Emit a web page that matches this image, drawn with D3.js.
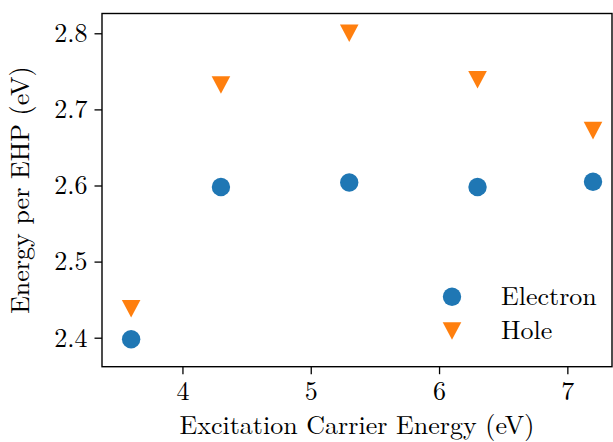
<!DOCTYPE html>
<html>
<head>
<meta charset="utf-8">
<script src="https://cdn.jsdelivr.net/npm/d3@7"></script>
<style>
  html, body { margin: 0; padding: 0; background: #fff; }
  svg { display: block; }
</style>
</head>
<body>
<script>
// Excitation carrier energies (eV)
const excitation = [3.6, 4.3, 5.3, 6.3, 7.2];
// Energy per electron-hole pair (eV)
const electron = [2.398, 2.598, 2.604, 2.598, 2.605];
const hole = [2.438, 2.732, 2.800, 2.739, 2.672];
const xTicks = [4, 5, 6, 7];
const yTicks = [2.4, 2.5, 2.6, 2.7, 2.8];
const seriesNames = ["Electron", "Hole"];
const seriesColors = ["#1f77b4", "#ff7f0e"];

const W = 613, H = 442;
const plot = { left: 102, right: 612, top: 13.5, bottom: 366.7 };
const FONT = '"Latin Modern Roman", "Liberation Serif", serif';
const fs = 26;

const svg = d3.select("body").append("svg").attr("width", W).attr("height", H)
  .style("font-family", FONT);

const x = d3.scaleLinear().domain([3.373, 7.348]).range([plot.left, plot.right]);
const y = d3.scaleLinear().domain([2.3619, 2.826]).range([plot.bottom, plot.top]);

// axes
const xAxis = svg.append("g")
  .attr("transform", `translate(0,${plot.bottom})`)
  .call(d3.axisBottom(x).tickValues(xTicks).tickFormat(d3.format("d")).tickSize(7.5).tickPadding(7));
const yAxis = svg.append("g")
  .attr("transform", `translate(${plot.left},0)`)
  .call(d3.axisLeft(y).tickValues(yTicks).tickFormat(d3.format(".1f")).tickSize(7.5).tickPadding(7));

[xAxis, yAxis].forEach(g => {
  g.attr("font-family", null).attr("font-size", null);
  g.select(".domain").remove();
  g.selectAll(".tick line").attr("stroke", "#000").attr("stroke-width", 1.3);
  g.selectAll(".tick text")
    .style("font-family", FONT).style("font-size", fs + "px").attr("fill", "#000");
});

// frame
svg.append("rect")
  .attr("x", plot.left).attr("y", plot.top)
  .attr("width", plot.right - plot.left).attr("height", plot.bottom - plot.top)
  .attr("fill", "none").attr("stroke", "#000").attr("stroke-width", 1.4);

// axis labels
svg.append("text")
  .attr("x", (plot.left + plot.right) / 2).attr("y", 434)
  .attr("text-anchor", "middle")
  .style("font-family", FONT).style("font-size", fs + "px")
  .text("Excitation Carrier Energy (eV)");
svg.append("text")
  .attr("transform", `translate(29,${(plot.top + plot.bottom) / 2}) rotate(-90)`)
  .attr("text-anchor", "middle")
  .style("font-family", FONT).style("font-size", fs + "px")
  .text("Energy per EHP (eV)");

// marker shapes
const circleSym = d3.symbol().type(d3.symbolCircle).size(Math.PI * 9.2 * 9.2);
function triDown(cx, cy, s) {
  // downward triangle centred on its bounding box
  return `M${cx - s},${cy - s * 0.95}L${cx + s},${cy - s * 0.95}L${cx},${cy + s * 0.95}Z`;
}

svg.append("g").selectAll("path")
  .data(excitation.map((v, i) => [v, electron[i]]))
  .join("path")
  .attr("transform", d => `translate(${x(d[0])},${y(d[1])})`)
  .attr("d", circleSym)
  .attr("fill", seriesColors[0]);

svg.append("g").selectAll("path")
  .data(excitation.map((v, i) => [v, hole[i]]))
  .join("path")
  .attr("d", d => triDown(x(d[0]), y(d[1]), 9.3))
  .attr("fill", seriesColors[1]);

// legend
const legend = svg.append("g");
const legY = [296.7, 331];
legend.append("path")
  .attr("transform", `translate(452,${legY[0]})`)
  .attr("d", circleSym).attr("fill", seriesColors[0]);
legend.append("path")
  .attr("d", triDown(452, legY[1], 9.3)).attr("fill", seriesColors[1]);
seriesNames.forEach((n, i) => {
  legend.append("text")
    .attr("x", 501).attr("y", legY[i]).attr("dy", "0.32em")
    .style("font-family", FONT).style("font-size", fs + "px").text(n);
});
</script>
</body>
</html>
